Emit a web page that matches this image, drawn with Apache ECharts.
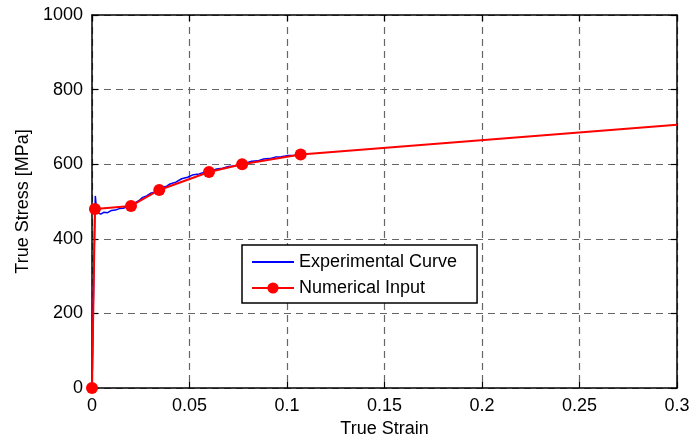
<!DOCTYPE html>
<html>
<head>
<meta charset="utf-8">
<script src="https://cdn.jsdelivr.net/npm/echarts@6/dist/echarts.min.js"></script>
<style>html,body{margin:0;padding:0;background:#fff;}#c{width:690px;height:436px;}</style>
</head>
<body>
<div id="c"></div>
<script>
var expStrain = [0, 0.0003, 0.0006, 0.0009, 0.0012, 0.0015, 0.0017, 0.0021, 0.0028, 0.0045, 0.006, 0.008, 0.010, 0.012, 0.014, 0.016, 0.018, 0.020, 0.022, 0.024, 0.026, 0.028, 0.030, 0.032, 0.034, 0.036, 0.038, 0.040, 0.043, 0.046, 0.049, 0.052, 0.055, 0.058, 0.061, 0.064, 0.067, 0.070, 0.073, 0.076, 0.079, 0.082, 0.085, 0.088, 0.091, 0.094, 0.097, 0.100, 0.103, 0.106];
var expStress = [0, 90, 200, 300, 390, 470, 515, 492, 470, 466, 471, 470, 476, 477, 481, 482, 486, 489, 496, 502, 511, 515, 522, 525, 531, 538, 540, 547, 552, 561, 565, 572, 574, 579, 582, 587, 589, 594, 595, 601, 603, 608, 609, 614, 615, 619, 620, 623, 623, 626];
var numStrain = [0, 0.0015, 0.020, 0.0345, 0.060, 0.077, 0.107, 0.3];
var numStress = [0, 480, 488, 531, 579, 600, 626, 706];
var xTicks = [0, 0.05, 0.1, 0.15, 0.2, 0.25, 0.3];
var yTicks = [0, 200, 400, 600, 800, 1000];

var chart = echarts.init(document.getElementById('c'));
var font = 'Liberation Sans, Arial, sans-serif';
var expData = expStrain.map(function (x, i) { return [x, expStress[i]]; });
var numData = numStrain.map(function (x, i) {
  var d = { value: [x, numStress[i]] };
  if (i === numStrain.length - 1) { d.symbol = 'none'; }
  return d;
});
var dashed = { show: true, lineStyle: { color: '#666', type: [7, 5], width: 1.2 } };
var tickStyle = { show: true, inside: true, length: 6, lineStyle: { color: '#000', width: 1.2 } };
chart.setOption({
  animation: false,
  backgroundColor: '#fff',
  grid: { left: 92, right: 13, top: 15, bottom: 48, containLabel: false, outerBoundsMode: 'none' },
  legend: {
    orient: 'vertical',
    left: 242, top: 245,
    backgroundColor: '#fff',
    borderColor: '#000', borderWidth: 1.5, borderRadius: 0,
    padding: [8, 20, 6, 9],
    itemWidth: 42, itemHeight: 14, itemGap: 8,
    textStyle: { fontFamily: font, fontSize: 18, color: '#000' },
    data: [
      { name: 'Experimental Curve', itemStyle: { color: 'rgba(0,0,0,0)', borderWidth: 0 } },
      { name: 'Numerical Input' }
    ]
  },
  xAxis: [{
    type: 'value', min: 0, max: 0.3, interval: 0.05,
    name: 'True Strain', nameLocation: 'middle', nameGap: 28,
    nameTextStyle: { fontFamily: font, fontSize: 18, color: '#000' },
    axisLine: { show: true, onZero: false, lineStyle: { color: '#000', width: 1.5 } },
    axisTick: tickStyle,
    axisLabel: { fontFamily: font, fontSize: 18, color: '#000', margin: 9,
      formatter: function (v) { return String(+v.toFixed(2)); } },
    splitLine: dashed
  }, {
    type: 'value', position: 'top', min: 0, max: 0.3, interval: 0.05,
    axisLine: { show: true, onZero: false, lineStyle: { color: '#000', width: 1.5 } },
    axisTick: tickStyle,
    axisLabel: { show: false }, splitLine: { show: false }
  }],
  yAxis: [{
    type: 'value', min: 0, max: 1000, interval: 200,
    name: 'True Stress [MPa]', nameLocation: 'middle', nameGap: 53,
    nameTextStyle: { fontFamily: font, fontSize: 18, color: '#000' },
    axisLine: { show: true, onZero: false, lineStyle: { color: '#000', width: 1.5 } },
    axisTick: tickStyle,
    axisLabel: { fontFamily: font, fontSize: 18, color: '#000', margin: 9,
      formatter: function (v) { return String(v); } },
    splitLine: dashed
  }, {
    type: 'value', position: 'right', min: 0, max: 1000, interval: 200,
    axisLine: { show: true, onZero: false, lineStyle: { color: '#000', width: 1.5 } },
    axisTick: tickStyle,
    axisLabel: { show: false }, splitLine: { show: false }
  }],
  series: [{
    name: 'Experimental Curve', type: 'line', data: expData,
    showSymbol: false, symbol: 'none',
    lineStyle: { color: '#0000ff', width: 1.5 }, itemStyle: { color: '#0000ff' },
    z: 2
  }, {
    name: 'Numerical Input', type: 'line', data: numData,
    symbol: 'circle', symbolSize: 12,
    lineStyle: { color: '#ff0000', width: 2 }, itemStyle: { color: '#ff0000' },
    z: 3
  }]
});
</script>
</body>
</html>
